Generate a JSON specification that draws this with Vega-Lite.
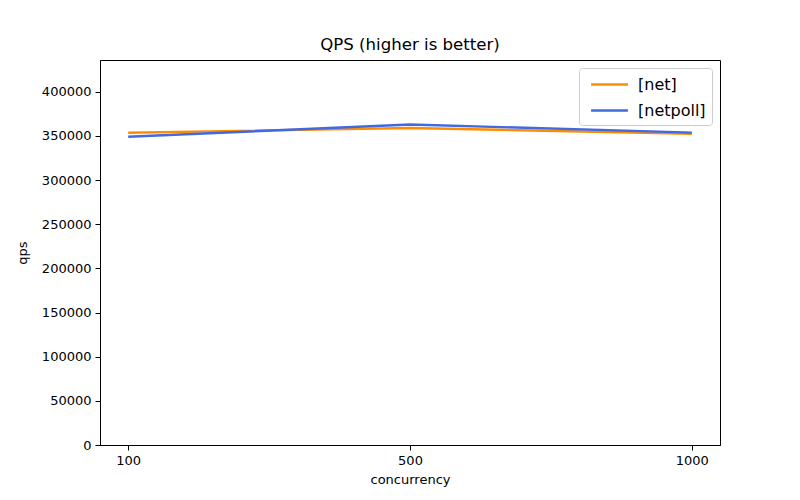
{
  "$schema": "https://vega.github.io/schema/vega-lite/v6.json",
  "width": 620,
  "height": 385,
  "autosize": {"type": "none"},
  "padding": {"left": 100, "top": 60, "right": 80, "bottom": 55},
  "background": "white",
  "title": {"text": "QPS (higher is better)", "fontSize": 16.6, "font": "DejaVu Sans", "fontWeight": "normal", "color": "black", "offset": 6},
  "data": {"values": [
    {"concurrency": "100", "series": "[net]", "qps": 353600},
    {"concurrency": "500", "series": "[net]", "qps": 359000},
    {"concurrency": "1000", "series": "[net]", "qps": 352400},
    {"concurrency": "100", "series": "[netpoll]", "qps": 349000},
    {"concurrency": "500", "series": "[netpoll]", "qps": 363000},
    {"concurrency": "1000", "series": "[netpoll]", "qps": 353800}
  ]},
  "mark": {"type": "line", "strokeWidth": 2.4},
  "encoding": {
    "x": {"field": "concurrency", "type": "ordinal", "sort": ["100", "500", "1000"],
      "scale": {"type": "point", "padding": 0.1},
      "axis": {"title": "concurrency", "labelAngle": 0}},
    "y": {"field": "qps", "type": "quantitative", "scale": {"domain": [0, 436000], "nice": false},
      "axis": {"title": "qps", "values": [0, 50000, 100000, 150000, 200000, 250000, 300000, 350000, 400000], "format": "d"}},
    "color": {"field": "series", "type": "nominal",
      "scale": {"domain": ["[net]", "[netpoll]"], "range": ["#FF8C00", "#4169E1"]},
      "legend": {"title": null, "orient": "top-right", "offset": 8, "symbolType": "M-2,0H2", "symbolSize": 340, "symbolStrokeWidth": 2.4,
        "labelFontSize": 16, "labelFont": "DejaVu Sans", "labelColor": "black", "strokeColor": "#cccccc", "cornerRadius": 3, "padding": 6, "fillColor": "white", "rowPadding": 7, "labelOffset": 18, "symbolOffset": 14}}
  },
  "config": {
    "font": "DejaVu Sans",
    "view": {"stroke": "black", "strokeWidth": 1},
    "axis": {"grid": false, "domainColor": "black", "tickColor": "black", "labelColor": "black", "titleColor": "black",
      "labelFontSize": 13, "titleFontSize": 13, "titleFontWeight": "normal", "tickSize": 5, "labelPadding": 4, "labelFont": "DejaVu Sans", "titleFont": "DejaVu Sans"},
    "axisY": {"titlePadding": 12},
    "axisX": {"titlePadding": 6}
  }
}
